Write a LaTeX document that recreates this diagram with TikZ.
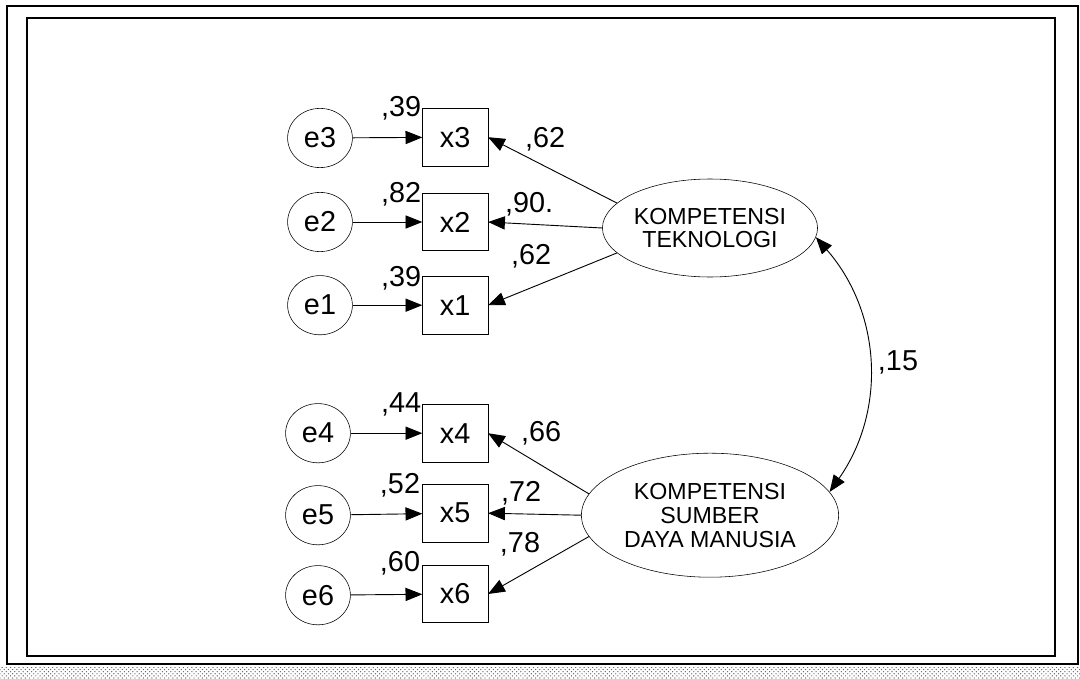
\documentclass[tikz,border=0pt]{standalone}
\usepackage{fontspec}
\setmainfont{Liberation Sans}
\usepackage{tikz}
\usetikzlibrary{shapes,arrows.meta,positioning,patterns}

\begin{document}
\begin{tikzpicture}[
        every node/.style={font=\fontsize{20.5}{21}\selectfont},
        err/.style={draw, ellipse, minimum width=1.62cm, minimum height=1.48cm, inner sep=0pt, font=\fontsize{20.5}{21}\selectfont},
        ind/.style={draw, rectangle, minimum width=1.63cm, minimum height=1.43cm, inner sep=0pt, font=\fontsize{20.5}{21}\selectfont},
        lat/.style={draw, ellipse, inner sep=0pt, align=center, font=\fontsize{16.5}{17}\selectfont},
        link/.style={draw, line width=0.65pt, -{Triangle[length=0.42cm,width=0.33cm]}},
        est/.style={inner sep=1pt},
    ]
        \useasboundingbox (0,0) rectangle (27,-16.95);

        % --- frames ---
        \draw[line width=1.2pt] (0.18,-0.15) rectangle (26.95,-16.6);
        \draw[line width=1.4pt] (0.68,-0.45) rectangle (26.38,-16.4);
        \fill[pattern=crosshatch dots, pattern color=gray!80!black] (0,-16.68) rectangle (27,-16.95);

        % --- error terms ---
        \node[err] (e3) at (8.0,-3.45)  {e3};
        \node[err] (e2) at (8.0,-5.55)  {e2};
        \node[err] (e1) at (8.0,-7.63)  {e1};
        \node[err] (e4) at (7.95,-10.83) {e4};
        \node[err] (e5) at (7.95,-12.88) {e5};
        \node[err] (e6) at (7.95,-14.88) {e6};

        % --- indicators ---
        \node[ind] (x3) at (11.38,-3.43)  {x3};
        \node[ind] (x2) at (11.38,-5.55)  {x2};
        \node[ind] (x1) at (11.38,-7.63)  {x1};
        \node[ind] (x4) at (11.38,-10.83) {x4};
        \node[ind] (x5) at (11.38,-12.83) {x5};
        \node[ind] (x6) at (11.38,-14.85) {x6};

        % --- latent variables ---
        \node[lat, minimum width=5.13cm, minimum height=2.45cm] (kt) at (17.75,-5.7)
              {KOMPETENSI\\TEKNOLOGI};
        \node[lat, minimum width=6.43cm, minimum height=3.1cm] (ksdm) at (17.75,-12.88)
              {KOMPETENSI\\SUMBER\\DAYA MANUSIA};

        % --- error paths ---
        \draw[link] (e3) -- (x3);
        \draw[link] (e2) -- (x2);
        \draw[link] (e1) -- (x1);
        \draw[link] (e4) -- (x4);
        \draw[link] (e5) -- (x5);
        \draw[link] (e6) -- (x6);

        % --- loadings ---
        \draw[link] (kt.165) -- (x3.east);
        \draw[link] (kt.180) -- (x2.east);
        \draw[link] (kt.195) -- (x1.east);
        \draw[link] (ksdm.170) -- (x4.east);
        \draw[link] (ksdm.180) -- (x5.east);
        \draw[link] (ksdm.190) -- (x6.east);

        % --- covariance ---
        \draw[line width=0.65pt, {Triangle[length=0.42cm,width=0.33cm]}-{Triangle[length=0.42cm,width=0.33cm]}]
              (kt.-5) to[bend left=38] (ksdm.11);

        % --- estimates ---
        \node[est] (r3) at (10.03,-2.7)  {,39};
        \node[est] (r2) at (10.03,-4.85) {,82};
        \node[est] (r1) at (10.03,-6.95) {,39};
        \node[est] (r4) at (10.03,-10.1) {,44};
        \node[est] (r5) at (10.0,-12.13) {,52};
        \node[est] (r6) at (10.0,-14.08) {,60};
        \node[est] (l3) at (13.63,-3.48) {,62};
        \node[est] (l2) at (13.23,-5.1)  {,90.};
        \node[est] (l1) at (13.28,-6.4)  {,62};
        \node[est] (l4) at (13.53,-10.83) {,66};
        \node[est] (l5) at (13.03,-12.33) {,72};
        \node[est] (l6) at (13.0,-13.6)  {,78};
        \node[est] (cv) at (22.45,-9.05) {,15};

    \end{tikzpicture}
\end{document}
